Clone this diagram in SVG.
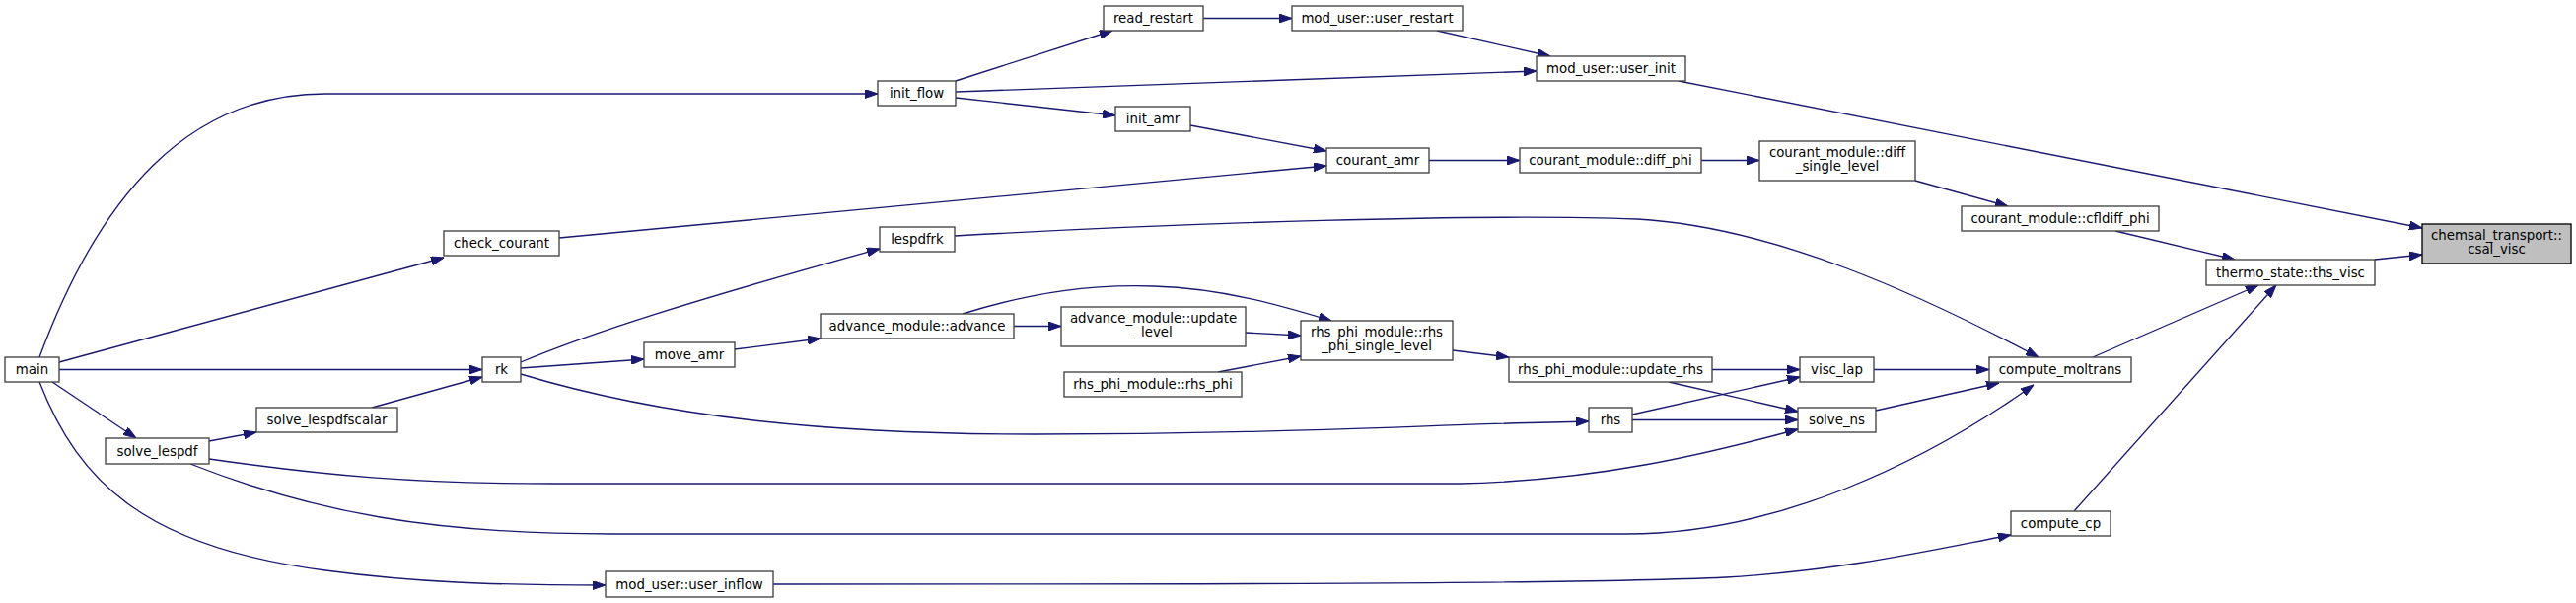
<svg xmlns="http://www.w3.org/2000/svg" width="2612" height="611" viewBox="0 0 2612 611">
<defs>
<style>
.n rect{fill:#ffffff;stroke:#404040;stroke-width:1.33}
.n.root rect{fill:#bfbfbf;stroke:#000000}
.n text{font-family:"DejaVu Sans","Liberation Sans",sans-serif;font-size:13.33px;fill:#000000;text-anchor:middle}
.e path{fill:none;stroke:#191970;stroke-width:1.33;marker-end:url(#ah)}
</style>
<marker id="ah" markerUnits="userSpaceOnUse" viewBox="0 0 13 9" refX="13" refY="4.5" markerWidth="13" markerHeight="9" orient="auto">
<path d="M0,0 L13,4.5 L0,9 z" fill="#191970" stroke="#191970" stroke-width="1"/>
</marker>
</defs>
<rect x="0" y="0" width="2612" height="611" fill="#ffffff"/>
<g id="edges" class="e">
<path d="M40,362 C100,200 190,95 330,95 L890,95"/>
<path d="M60,367 L450,261"/>
<path d="M60,374.5 L489,374.5"/>
<path d="M53,387 L138,444"/>
<path d="M40,387 C80,490 150,555 330,578 C420,590 500,593 614,593"/>
<path d="M969,82 L1128,31"/>
<path d="M969,93 C1200,84 1400,77 1558,72"/>
<path d="M969,99 L1131,117"/>
<path d="M1220,18.5 L1310,18.5"/>
<path d="M1457,31 L1572,57"/>
<path d="M1702,82 L2456,231"/>
<path d="M1207,127 L1345,153"/>
<path d="M567,241 L1345,168"/>
<path d="M1449,162.5 L1541,162.5"/>
<path d="M1725,162.5 L1784,162.5"/>
<path d="M1942,183 L2036,209"/>
<path d="M2145,234 L2266,263"/>
<path d="M2408,263 L2456,258"/>
<path d="M2122,362 L2290,289"/>
<path d="M2103,518 L2308,289"/>
<path d="M968,239 C1200,226 1500,216 1660,222 C1800,230 1950,300 2067,362"/>
<path d="M528,367 C600,337 700,305 892,252"/>
<path d="M528,373 L653,364"/>
<path d="M528,379 C680,425 850,440 1050,440 C1300,440 1450,430 1611,427"/>
<path d="M745,354 L832,343"/>
<path d="M1028,330.5 L1076,330.5"/>
<path d="M976,318 C1050,295 1110,288 1170,290 C1240,292 1300,310 1350,325"/>
<path d="M1263,337 L1319,340"/>
<path d="M1235,377 L1319,361"/>
<path d="M1473,355 L1530,362"/>
<path d="M1736,374.5 L1825,374.5"/>
<path d="M1692,387 L1823,417"/>
<path d="M1655,420 L1825,382"/>
<path d="M1655,425.5 L1823,425.5"/>
<path d="M1900,374.5 L2017,374.5"/>
<path d="M1902,416 L2027,388"/>
<path d="M212,447 L260,438"/>
<path d="M377,413 L489,382"/>
<path d="M212,465 C330,482 420,490 560,490 L1480,490 C1620,487 1730,460 1823,435"/>
<path d="M193,470 C320,520 440,541 620,541 L1650,541 C1800,541 1950,470 2062,390"/>
<path d="M784,592 C1200,592 1600,592 1750,585 C1870,578 1960,557 2039,542"/>
</g>
<g id="main" class="n"><rect x="5" y="362" width="55" height="25"/><text x="32.5" y="379">main</text></g>
<g id="init_flow" class="n"><rect x="890" y="82" width="79" height="25"/><text x="929.5" y="99">init_flow</text></g>
<g id="read_restart" class="n"><rect x="1119" y="6" width="101" height="25"/><text x="1169.5" y="23">read_restart</text></g>
<g id="user_restart" class="n"><rect x="1310" y="6" width="173" height="25"/><text x="1396.5" y="23">mod_user::user_restart</text></g>
<g id="user_init" class="n"><rect x="1558" y="57" width="151" height="25"/><text x="1633.5" y="74">mod_user::user_init</text></g>
<g id="init_amr" class="n"><rect x="1131" y="108" width="76" height="25"/><text x="1169" y="125">init_amr</text></g>
<g id="courant_amr" class="n"><rect x="1345" y="150" width="104" height="25"/><text x="1397" y="167">courant_amr</text></g>
<g id="diff_phi" class="n"><rect x="1541" y="150" width="184" height="25"/><text x="1633" y="167">courant_module::diff_phi</text></g>
<g id="diff_single_level" class="n"><rect x="1784" y="143" width="158" height="40"/><text x="1863" y="159">courant_module::diff</text><text x="1863" y="173">_single_level</text></g>
<g id="cfldiff_phi" class="n"><rect x="1989" y="209" width="200" height="25"/><text x="2089" y="226">courant_module::cfldiff_phi</text></g>
<g id="ths_visc" class="n"><rect x="2237" y="263" width="171" height="26"/><text x="2322.5" y="280.5">thermo_state::ths_visc</text></g>
<g id="csal_visc" class="n root"><rect x="2456" y="227" width="151" height="40"/><text x="2531.5" y="243">chemsal_transport::</text><text x="2531.5" y="257">csal_visc</text></g>
<g id="check_courant" class="n"><rect x="450" y="234" width="117" height="25"/><text x="508.5" y="251">check_courant</text></g>
<g id="lespdfrk" class="n"><rect x="892" y="230" width="76" height="25"/><text x="930" y="247">lespdfrk</text></g>
<g id="rk" class="n"><rect x="489" y="362" width="39" height="25"/><text x="508.5" y="379">rk</text></g>
<g id="move_amr" class="n"><rect x="653" y="347" width="92" height="25"/><text x="699" y="364">move_amr</text></g>
<g id="advance" class="n"><rect x="832" y="318" width="196" height="25"/><text x="930" y="335">advance_module::advance</text></g>
<g id="update_level" class="n"><rect x="1076" y="311" width="187" height="40"/><text x="1169.5" y="327">advance_module::update</text><text x="1169.5" y="341">_level</text></g>
<g id="rhs_phi" class="n"><rect x="1079" y="377" width="180" height="25"/><text x="1169" y="394">rhs_phi_module::rhs_phi</text></g>
<g id="rhs_phi_single_level" class="n"><rect x="1319" y="325" width="154" height="40"/><text x="1396" y="341">rhs_phi_module::rhs</text><text x="1396" y="355">_phi_single_level</text></g>
<g id="update_rhs" class="n"><rect x="1530" y="362" width="206" height="25"/><text x="1633" y="379">rhs_phi_module::update_rhs</text></g>
<g id="visc_lap" class="n"><rect x="1825" y="362" width="75" height="25"/><text x="1862.5" y="379">visc_lap</text></g>
<g id="compute_moltrans" class="n"><rect x="2017" y="362" width="144" height="25"/><text x="2089" y="379">compute_moltrans</text></g>
<g id="rhs" class="n"><rect x="1611" y="413" width="44" height="25"/><text x="1633" y="430">rhs</text></g>
<g id="solve_ns" class="n"><rect x="1823" y="413" width="79" height="25"/><text x="1862.5" y="430">solve_ns</text></g>
<g id="compute_cp" class="n"><rect x="2039" y="518" width="101" height="25"/><text x="2089.5" y="535">compute_cp</text></g>
<g id="user_inflow" class="n"><rect x="614" y="579" width="170" height="26"/><text x="699" y="596.5">mod_user::user_inflow</text></g>
<g id="solve_lespdfscalar" class="n"><rect x="260" y="413" width="143" height="25"/><text x="331.5" y="430">solve_lespdfscalar</text></g>
<g id="solve_lespdf" class="n"><rect x="107" y="444" width="105" height="26"/><text x="159.5" y="461.5">solve_lespdf</text></g>
</svg>
